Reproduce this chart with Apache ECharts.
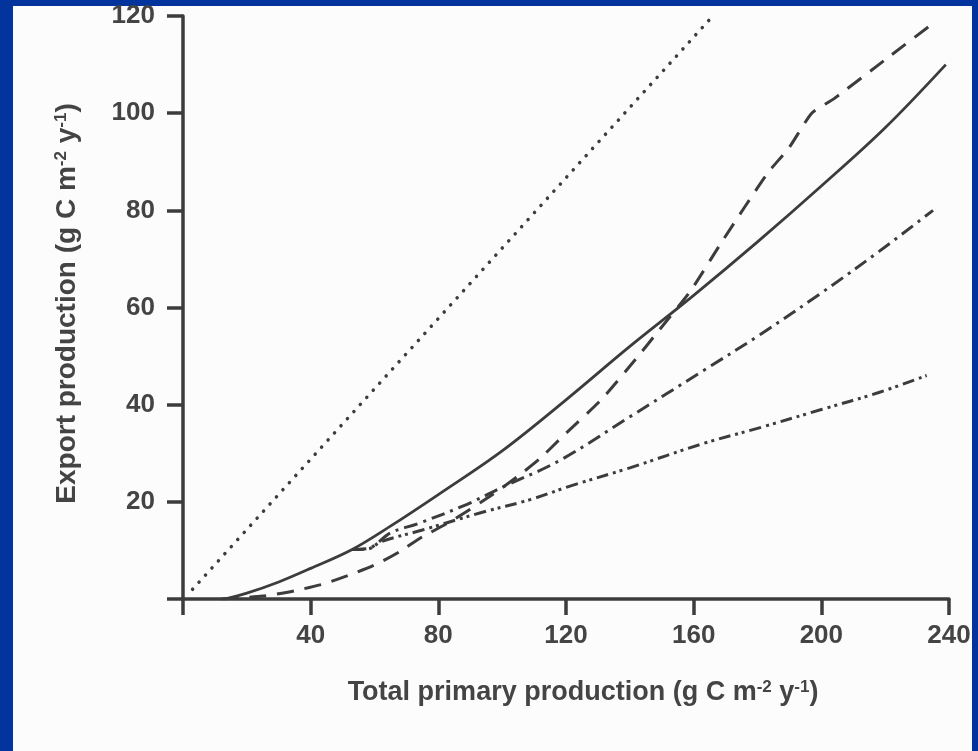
<!DOCTYPE html>
<html>
<head>
<meta charset="utf-8">
<script src="https://cdn.jsdelivr.net/npm/echarts@6/dist/echarts.min.js"></script>
<style>
  html, body { margin: 0; padding: 0; background: #03339c; width: 978px; height: 751px; overflow: hidden; }
  #panel { position: absolute; left: 13px; top: 6px; width: 959px; height: 745px; background: #fcfcfc; }
  #chart { position: absolute; left: 0; top: 0; width: 978px; height: 751px; }
</style>
</head>
<body>
<div id="panel"></div>
<div id="chart"></div>
<script>
// Tick values
const xTicks = [0, 40, 80, 120, 160, 200, 240];
const yTicks = [0, 20, 40, 60, 80, 100, 120];

// Curves: [total primary production, export production]
const dottedLine = [[3, 2], [166, 120]];
const solidLine = [[13, 0], [20, 1.2], [30, 3.5], [40, 6.3], [53, 10.2], [65, 15], [80, 21.5], [100, 30.5], [120, 41], [140, 52], [160, 62.5], [180, 73.5], [200, 85], [220, 97], [239, 110]];
const dashedLine = [[12, 0], [25, 0.6], [35, 1.7], [44, 3.1], [52, 4.9], [61, 7.3], [68, 9.8], [75, 12.8], [84, 16], [97, 21.5], [105, 25.3], [112, 29], [119, 33.5], [131, 41], [142, 49.5], [149, 55.2], [159, 63.4], [169, 73.7], [183, 87.5], [190, 93], [197, 100], [204, 103], [220, 111], [235, 118.5]];
const dashDotLine = [[53, 10.2], [58, 10.4], [65, 13.6], [74, 15.6], [89, 19.5], [100, 23], [118, 28.5], [140, 37.5], [163, 47], [181, 54.5], [200, 63], [218, 71.5], [235, 80]];
const dashDotDotLine = [[53, 10.2], [58, 10.3], [62, 11.8], [75, 14.2], [93, 17.7], [109, 20.5], [122, 23.4], [140, 27], [163, 32], [182, 35.5], [200, 39], [218, 42.5], [233, 46]];

const ink = '#3c3c3c';
const fontFam = 'Liberation Sans, Arial, sans-serif';
const labelFont = { color: '#444', fontFamily: fontFam, fontWeight: 'bold', fontSize: 26 };

const chart = echarts.init(document.getElementById('chart'));

function lineSeries(data, type, width, extra) {
  return Object.assign({
    type: 'line',
    data: data,
    showSymbol: false,
    symbol: 'none',
    smooth: 0.35,
    lineStyle: { color: ink, width: width, type: type },
    silent: true,
    animation: false
  }, extra || {});
}

function nameStyle(size, pad) {
  return {
    color: '#444', fontFamily: fontFam, fontWeight: 'bold', fontSize: size,
    padding: pad,
    rich: {
      sup: { color: '#444', fontFamily: fontFam, fontWeight: 'bold', fontSize: Math.round(size * 0.62), verticalAlign: 'top', lineHeight: 22 }
    }
  };
}

chart.setOption({
  backgroundColor: 'transparent',
  animation: false,
  grid: { left: 183, top: 16, right: 29, bottom: 152, containLabel: false },
  xAxis: {
    type: 'value',
    min: xTicks[0],
    max: xTicks[xTicks.length - 1],
    interval: 40,
    axisLine: { show: true, lineStyle: { color: ink, width: 3.5 } },
    axisTick: { show: true, length: 16, lineStyle: { color: ink, width: 3.5 } },
    axisLabel: Object.assign({ margin: 24, formatter: v => (v === 0 ? '' : String(v)) }, labelFont),
    splitLine: { show: false },
    name: 'Total primary production (g C m{sup|-2} y{sup|-1})',
    nameLocation: 'middle',
    nameGap: 80,
    nameTextStyle: nameStyle(27, [0, 0, 0, 34])
  },
  yAxis: {
    type: 'value',
    min: yTicks[0],
    max: yTicks[yTicks.length - 1],
    interval: 20,
    axisLine: { show: true, lineStyle: { color: ink, width: 3.5 } },
    axisTick: { show: true, length: 16, lineStyle: { color: ink, width: 3.5 } },
    axisLabel: Object.assign({ margin: 28, formatter: v => (v === 0 ? '' : String(v)) }, labelFont),
    splitLine: { show: false },
    name: 'Export production (g C m{sup|-2} y{sup|-1})',
    nameLocation: 'middle',
    nameGap: 102,
    nameTextStyle: nameStyle(28, [0, 0, 0, 8])
  },
  series: [
    lineSeries(dottedLine, [0.1, 9.5], 3.5, { smooth: false, lineStyle: { color: ink, width: 3.5, type: [0.1, 9.5], cap: 'round' } }),
    lineSeries(solidLine, 'solid', 2.8),
    lineSeries(dashedLine, [17, 11], 3, { smooth: 0.2 }),
    lineSeries(dashDotLine, [14, 6, 3, 6], 3),
    lineSeries(dashDotDotLine, [12, 5, 3, 4, 3, 5], 3)
  ]
});
</script>
</body>
</html>
